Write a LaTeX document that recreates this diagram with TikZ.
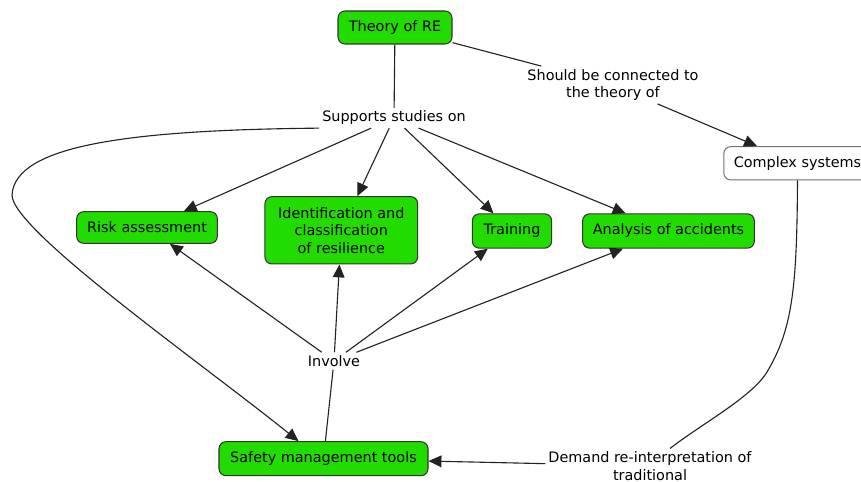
\documentclass[tikz,border=0pt]{standalone}
\usepackage{fontspec}
\setmainfont{DejaVu Sans}
\usetikzlibrary{arrows.meta}
\definecolor{conceptgreen}{RGB}{34,220,0}
\definecolor{linkgray}{RGB}{35,35,35}

\begin{document}
\begin{tikzpicture}[x=0.03cm, y=-0.03cm,
    font=\fontsize{12.3}{15}\selectfont,
    concept/.style={draw=black!80, fill=conceptgreen, rounded corners=6pt, line width=0.9pt, align=center, inner sep=0pt},
    linkphrase/.style={align=center, inner sep=2.5pt},
    link/.style={draw=linkgray, line width=0.95pt},
    arrowlink/.style={link, -{Triangle[length=11pt,width=10pt]}}]

    % Fix the frame
    \clip (0,0) rectangle (861,482);
    \fill[white] (0,0) rectangle (861,482);

    % Draw concepts
    \node[concept, minimum width=3.42cm, minimum height=0.99cm] (theory) at (395,27.5) {Theory of RE};
    \node[concept, minimum width=4.22cm, minimum height=0.95cm] (risk) at (147,227.5) {Risk assessment};
    \node[concept, minimum width=4.58cm, minimum height=2.02cm] (ident) at (341.3,230.3) {Identification and\\classification\\of resilience};
    \node[concept, minimum width=2.38cm, minimum height=1.03cm] (training) at (512,231) {Training};
    \node[concept, minimum width=5.15cm, minimum height=1.03cm] (analysis) at (668.5,231) {Analysis of accidents};
    \node[concept, minimum width=6.27cm, minimum height=1.02cm] (safety) at (323.5,458.7) {Safety management tools};
    \node[concept, fill=white, draw=black!55, anchor=west, minimum height=1cm, inner xsep=8.5pt] (complex) at (723.3,163.3) {Complex systems};

    % Draw linking phrases
    \node[linkphrase] (supports) at (394,118) {Supports studies on};
    \node[linkphrase] (should) at (613,85) {Should be connected to\\the theory of};
    \node[linkphrase] (involve) at (334,361) {Involve};
    \node[linkphrase] (demand) at (650,466) {Demand re-interpretation of\\traditional};

    % Theory of RE
    \draw[link] (theory) -- (supports);
    \draw[link] (theory) -- (should);
    \draw[arrowlink] (should) -- (complex);

    % Supports studies on
    \draw[arrowlink] (supports) -- (risk);
    \draw[arrowlink] (supports) -- (ident);
    \draw[arrowlink] (supports) -- (training);
    \draw[arrowlink] (supports) -- (analysis);
    \draw[arrowlink] (supports.south west) .. controls (130,130) and (15,145) .. (12,195)
        .. controls (12,230) and (200,362) .. ([xshift=-0.75cm]safety.north);

    % Involve
    \draw[link] (safety) -- (involve);
    \draw[arrowlink] (involve) -- (risk);
    \draw[arrowlink] (involve) -- (ident);
    \draw[arrowlink] (involve) -- (training);
    \draw[arrowlink] (involve) -- (analysis);

    % Complex systems
    \draw[link] (complex.south) .. controls (797,290) and (792,330) .. (767,372)
        .. controls (752,397) and (700,425) .. ([xshift=0.6cm]demand.north);
    \draw[arrowlink] (demand) -- (safety);
\end{tikzpicture}
\end{document}
